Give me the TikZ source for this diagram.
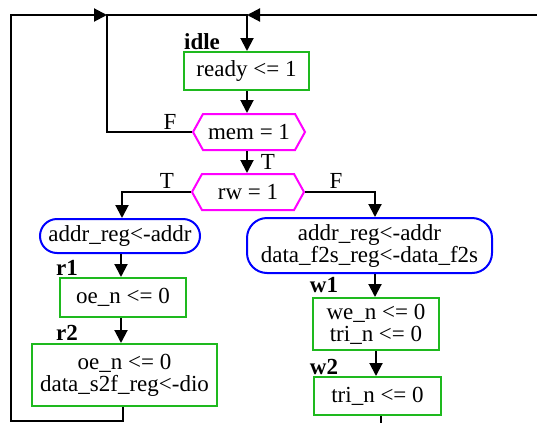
\documentclass[tikz,border=0pt]{standalone}
\usepackage{fontspec}
\setmainfont{Liberation Serif}
\usetikzlibrary{arrows.meta,shapes.symbols}
\definecolor{stgreen}{RGB}{30,185,30}
\definecolor{stmag}{RGB}{255,0,255}
\definecolor{stblue}{RGB}{0,0,255}
\tikzset{
  every node/.style={font=\fontsize{23}{22}\selectfont, inner sep=0pt},
  actbox/.style={draw=stgreen, line width=2pt, rectangle, align=center},
  testbox/.style={draw=stmag, line width=2pt, signal, signal from=nowhere, signal to=west and east,
    signal pointer angle=122, align=center},
  regbox/.style={draw=stblue, line width=2pt, rectangle, align=center},
  lbl/.style={font=\fontsize{23}{22}\selectfont\bfseries},
  flow/.style={line width=2pt, -{Triangle[length=13pt,width=13pt]}},
  wire/.style={line width=2pt},
}
\begin{document}
\begin{tikzpicture}[x=1pt,y=-1pt]
\useasboundingbox (0,0) rectangle (537,423);
% state boxes
\node[actbox, minimum width=125pt, minimum height=38pt] (ready) at (246.5,71) {ready <= 1};
\node[testbox, minimum width=112pt, minimum height=36pt] (mem) at (249,132) {mem = 1};
\node[testbox, minimum width=112pt, minimum height=36pt] (rw) at (248,192) {rw = 1};
\node[regbox, rounded corners=17pt, minimum width=160pt, minimum height=34pt] (addrL) at (120,236) {addr\_reg<-addr};
\node[regbox, rounded corners=20pt, minimum width=245pt, minimum height=55pt] (addrR) at (369.5,245.5) {addr\_reg<-addr\\data\_f2s\_reg<-data\_f2s};
\node[actbox, minimum width=126pt, minimum height=39pt] (oe1) at (123,297.5) {oe\_n <= 0};
\node[actbox, minimum width=185pt, minimum height=62pt] (rd2) at (124.5,375) {oe\_n <= 0\\data\_s2f\_reg<-dio};
\node[actbox, minimum width=126pt, minimum height=52pt] (wr1) at (376,324) {we\_n <= 0\\ tri\_n <= 0};
\node[actbox, minimum width=127pt, minimum height=38pt] (wr2) at (377.5,396) {tri\_n <= 0};
% state names
\node[lbl] (nidle) at (202,42) {idle};
\node[lbl] (nr1) at (67,268) {r1};
\node[lbl] (nr2) at (67,333) {r2};
\node[lbl] (nw1) at (324,285) {w1};
\node[lbl] (nw2) at (324,367) {w2};
% branch labels
\node (fmem) at (170,122) {F};
\node (tmem) at (268,162) {T};
\node (trw) at (167,181) {T};
\node (frw) at (336,181) {F};
% loose ends and corners
\coordinate (join) at (247,15);
\coordinate (inR) at (537,15);
\coordinate (loopX) at (107,15);
\coordinate (outW) at (381,423);
% connectors
\draw[flow] (inR) -- (join);
\draw[flow] (mem.west) -| (loopX) -- (join) -- (join |- ready.north);
\draw[flow] (ready.south -| join) -- (join |- mem.north);
\draw[flow] (join |- mem.south) -- (join |- rw.north);
\draw[flow] (rw.west) -| (122,0 |- addrL.north);
\draw[flow] (rw.east) -| (375,0 |- addrR.north);
\draw[flow] (121,0 |- addrL.south) -- (121,0 |- oe1.north);
\draw[flow] (121,0 |- oe1.south) -- (121,0 |- rd2.north);
\draw[flow] (123,0 |- rd2.south) -- (123,421) -- (11,421) -- (11,15) -- (loopX);
\draw[flow] (375,0 |- addrR.south) -- (375,0 |- wr1.north);
\draw[flow] (376,0 |- wr1.south) -- (376,0 |- wr2.north);
\draw[wire] (outW |- wr2.south) -- (outW);
\end{tikzpicture}
\end{document}
